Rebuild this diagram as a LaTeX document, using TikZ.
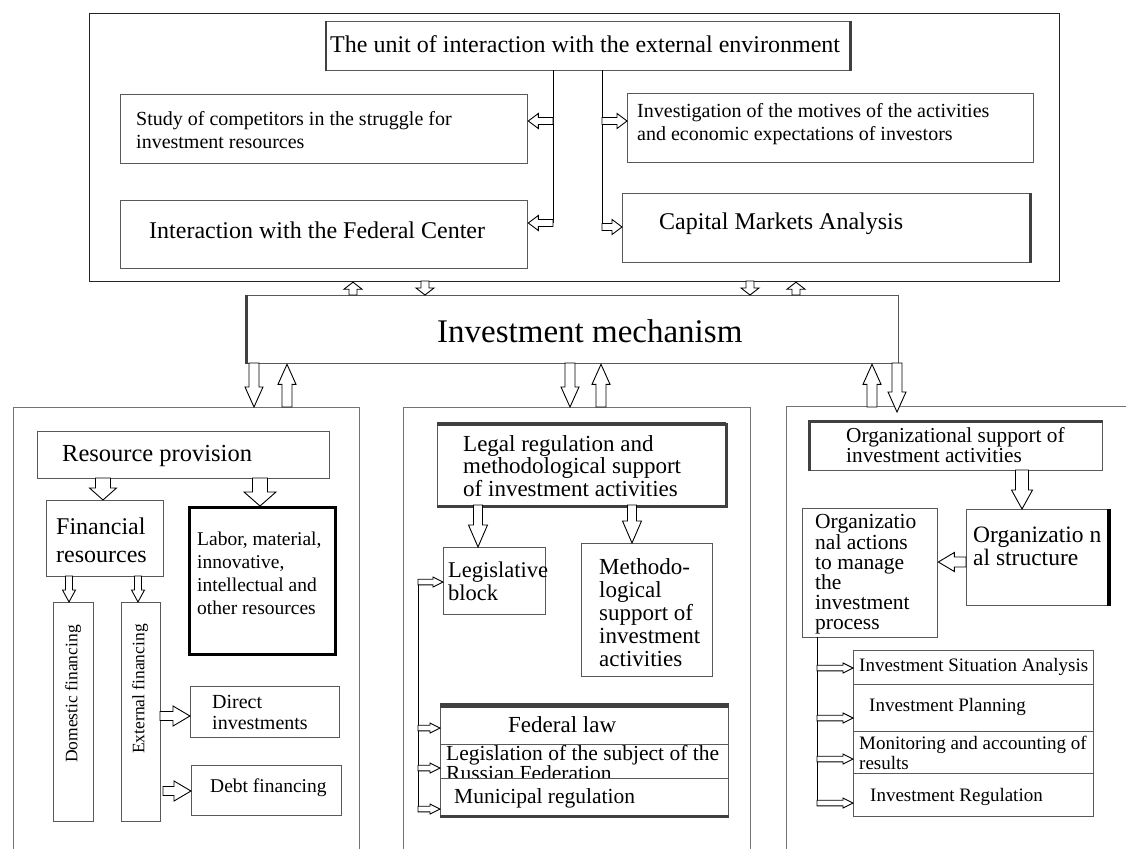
\documentclass[tikz,border=0pt]{standalone}
\usepackage{fontspec}
\setmainfont{Liberation Serif}
\usetikzlibrary{calc}
\tikzset{
  box/.style={draw=black!65, line width=1.3pt, fill=white, inner sep=0pt, anchor=north west},
  panelbox/.style={draw=black!55, line width=1.3pt, fill=white, inner sep=0pt, anchor=north west},
  txt/.style={inner sep=0pt, anchor=west, align=left, text=black},
  barrow/.style={draw=black, line width=0.9pt, fill=white, line join=miter},
  link/.style={draw=black, line width=1pt},
  heavy/.style={line width=#1, draw=black!75},
}
\newcommand\fs[2]{\fontsize{#1}{#2}\selectfont}
\newcommand\bx[6][]{\node[box, #1, minimum width={(#5-#3)*1pt}, minimum height={(#6-#4)*1pt}] (#2) at (#3,#4) {};}
\newcommand\barr[5]{%
 \draw[barrow] let \p1=#1, \p2=#2, \n1={atan2(\y2-\y1,\x2-\x1)}, \n2={veclen(\x2-\x1,\y2-\y1)} in
 ($(\p1)+(\n1+90:#3)$) -- ($(\p1)+(\n1:\n2-#5)+(\n1+90:#3)$) -- ($(\p1)+(\n1:\n2-#5)+(\n1+90:#4)$) -- (\p2)
 -- ($(\p1)+(\n1:\n2-#5)+(\n1-90:#4)$) -- ($(\p1)+(\n1:\n2-#5)+(\n1-90:#3)$) -- ($(\p1)+(\n1-90:#3)$) -- cycle;}
\begin{document}
\begin{tikzpicture}[x=1pt,y=-1pt]
\useasboundingbox[fill=white] (0,0) rectangle (1126,848);

% ---------- top block ----------
\node[panelbox, draw=black!85, line width=1.2pt, minimum width=970pt, minimum height=268pt] (top) at (89,13) {};
\bx{title}{326}{21}{849}{70}
\draw[heavy=2.5pt] (title.north west) -- (title.south west);
\draw[heavy=2.5pt] (title.north east) -- (title.south east);
\bx{study}{120}{94}{527}{163}
\bx{inter}{120}{200}{527}{268}
\bx{invest}{627}{93}{1033}{162}
\bx{capital}{622}{193}{1029}{262}
\draw[heavy=2.5pt] (capital.north east) -- (capital.south east);

\node[txt, font=\fs{24}{28}] (t-title) at (330,44) {The unit of interaction with the external environment};
\node[txt, font=\fs{20}{23}] (t-study) at (136,130.5) {Study of competitors in the struggle for\\investment resources};
\node[txt, font=\fs{24}{28}] (t-inter) at (149,230) {Interaction with the Federal Center};
\node[txt, font=\fs{20}{23}] (t-invest) at (637,124.5) {Investigation of the motives of the activities\\and economic expectations of investors};
\node[txt, font=\fs{24}{28}] (t-capital) at (659,224) {Capital Markets Analysis};

\coordinate (jL) at (553,70);
\coordinate (jLa) at (553,121);
\coordinate (jLb) at (553,223);
\coordinate (jR) at (602,70);
\coordinate (jRa) at (602,121);
\coordinate (jRb) at (602,227);
\draw[link] (jL) -- (jLb);
\draw[link] (jR) -- (jRb);
\barr{(jLa)}{(study.east |- jLa)}{3.5pt}{7.5pt}{10pt}
\barr{(jLb)}{(inter.east |- jLb)}{3.5pt}{7.5pt}{10pt}
\barr{(jRa)}{(invest.west |- jRa)}{3.5pt}{7.5pt}{10pt}
\barr{(jRb)}{(capital.west |- jRb)}{3.5pt}{7.5pt}{10pt}

% ---------- mechanism ----------
\bx{mech}{246}{295}{898}{363}
\draw[heavy=3pt] (mech.north west) -- (mech.south west);
\node[txt, font=\fs{33}{38}] (t-mech) at (437,331) {Investment mechanism};

\coordinate (m1) at (353,295);
\coordinate (m2) at (425,281);
\coordinate (m3) at (750,281);
\coordinate (m4) at (796,295);
\barr{(m1)}{(top.south -| m1)}{4pt}{9pt}{7pt}
\barr{(m2)}{(mech.north -| m2)}{4pt}{9pt}{7pt}
\barr{(m3)}{(mech.north -| m3)}{4pt}{9pt}{7pt}
\barr{(m4)}{(top.south -| m4)}{4pt}{9pt}{7pt}

% ---------- panels ----------
\node[panelbox, minimum width=346pt, minimum height=470pt] (lp) at (13,407) {};
\node[panelbox, minimum width=347pt, minimum height=470pt] (cp) at (403,407) {};
\node[panelbox, minimum width=360pt, minimum height=470pt] (rp) at (786,406) {};

\coordinate (d1) at (254,363);
\coordinate (u1) at (287,407);
\coordinate (d2) at (570,363);
\coordinate (u2) at (601,407);
\coordinate (u3) at (872,407);
\coordinate (d3) at (897,363);
\coordinate (d3e) at (897,412);
\barr{(d1)}{(lp.north -| d1)}{5pt}{9pt}{20pt}
\barr{(u1)}{(mech.south -| u1)}{5pt}{9pt}{20pt}
\barr{(d2)}{(cp.north -| d2)}{5pt}{9pt}{20pt}
\barr{(u2)}{(mech.south -| u2)}{5pt}{9pt}{20pt}
\barr{(u3)}{(mech.south -| u3)}{5pt}{9pt}{20pt}
\barr{(d3)}{(d3e)}{5pt}{9pt}{20pt}

% ---------- left panel ----------
\bx{res}{37}{431}{329}{478}
\bx{fin}{46}{500}{163}{576}
\bx[draw=black, line width=2.6pt]{labor}{188}{506}{334}{653}
\bx{dom}{53}{602}{93}{821}
\bx{ext}{121}{602}{160}{821}
\bx{direct}{190}{686}{339}{737}
\bx{debt}{191}{765}{341}{815}

\node[txt, font=\fs{24.5}{28}] (t-res) at (62,456) {Resource provision};
\node[txt, font=\fs{24}{28}] (t-fin) at (56,540) {Financial\\resources};
\node[txt, font=\fs{19.5}{23}] (t-labor) at (197,573) {Labor, material,\\innovative,\\intellectual and\\other resources};
\node[inner sep=0pt, rotate=90, font=\fs{17.5}{20}] (t-dom) at (73,694) {Domestic financing};
\node[inner sep=0pt, rotate=90, font=\fs{17.5}{20}] (t-ext) at (140,689) {External financing};
\node[txt, font=\fs{20}{21}] (t-direct) at (212,712.5) {Direct\\investments};
\node[txt, font=\fs{19.5}{22}] (t-debt) at (210,788) {Debt financing};

\coordinate (r1) at (103,478);
\coordinate (r2) at (260,478);
\coordinate (f1) at (69,576);
\coordinate (f2) at (138,576);
\coordinate (e1) at (160,716);
\coordinate (e2) at (163,791);
\barr{(r1)}{(fin.north -| r1)}{7.5pt}{13.5pt}{12pt}
\barr{(r2)}{(labor.north -| r2)}{7.5pt}{16pt}{14pt}
\barr{(f1)}{(dom.north -| f1)}{3.5pt}{6.5pt}{12pt}
\barr{(f2)}{(ext.north -| f2)}{3.5pt}{6.5pt}{12pt}
\barr{(e1)}{(direct.west |- e1)}{4.5pt}{10pt}{17pt}
\barr{(e2)}{(debt.west |- e2)}{4.5pt}{10pt}{17pt}

% ---------- centre panel ----------
\bx{legal}{437}{423}{725}{505}
\draw[heavy=4pt] ($(legal.north west)+(0,1)$) -- ($(legal.north east)+(0,1)$);
\draw[heavy=2.5pt] (legal.south west) -- (legal.south east) -- (legal.north east);
\bx{legis}{443}{547}{545}{614}
\bx{meth}{581}{543}{712}{676}
\bx{lawA}{440}{703}{728}{744}
\bx{lawB}{440}{744}{728}{778}
\node[txt, font=\fs{21.5}{20}] (t-lawB) at (446,763) {Legislation of the subject of the\\Russian Federation};
\bx{lawC}{440}{778}{728}{815}
\draw[heavy=5pt] ($(lawA.north west)+(0,2)$) -- ($(lawA.north east)+(0,2)$);
\draw[heavy=3.5pt] (lawC.south west) -- (lawC.south east);

\node[txt, font=\fs{23}{22.5}] (t-legal) at (463,466) {Legal regulation and\\methodological support\\of investment activities};
\node[txt, font=\fs{22.5}{23}] (t-legis) at (448,581.5) {Legislative\\block};
\node[txt, font=\fs{23}{23}] (t-meth) at (599,613) {Methodo-\\logical\\support of\\investment\\activities};
\node[txt, font=\fs{23}{26}] (t-lawA) at (508,725) {Federal law};
\node[txt, font=\fs{21.5}{24}] (t-lawC) at (454,798) {Municipal regulation};

\coordinate (g1) at (478,505);
\coordinate (g2) at (632,505);
\barr{(g1)}{(legis.north -| g1)}{4.5pt}{9.5pt}{22pt}
\barr{(g2)}{(meth.north -| g2)}{4.5pt}{9.5pt}{22pt}
\coordinate (cA) at (418,582);
\coordinate (cB) at (418,728);
\coordinate (cC) at (418,768);
\coordinate (cD) at (418,809);
\draw[link] (cA) -- (cD);
\barr{(cA)}{(legis.west |- cA)}{2.8pt}{5pt}{10pt}
\barr{(cB)}{(lawA.west |- cB)}{2.8pt}{5pt}{10pt}
\barr{(cC)}{(lawB.west |- cC)}{2.8pt}{5pt}{10pt}
\barr{(cD)}{(lawC.west |- cD)}{2.8pt}{5pt}{10pt}

% ---------- right panel ----------
\bx{org}{809}{421}{1102}{470}
\draw[heavy=3pt] (org.south west) -- (org.north west) -- (org.north east);
\bx{struct}{966}{509}{1109}{605}
\draw[line width=4pt, black] ($(struct.north east)+(-1,0)$) -- ($(struct.south east)+(-1,0)$);
\bx{acts}{802}{508}{937}{637}
\bx{rA}{853}{650}{1093}{684}
\bx{rB}{853}{684}{1093}{731}
\bx{rC}{853}{731}{1093}{773}
\bx{rD}{853}{773}{1093}{816}

\node[txt, font=\fs{21.3}{20}] (t-org) at (846,445) {Organizational support of\\investment activities};
\node[txt, font=\fs{21.5}{20.2}] (t-acts) at (815,574.5) {Organizatio\\nal actions\\to manage\\the\\investment\\process};
\node[txt, font=\fs{23.5}{23}] (t-struct) at (973,546.5) {Organizatio n\\al structure};
\node[txt, font=\fs{19}{22}] (t-rA) at (859,667) {Investment Situation Analysis};
\node[txt, font=\fs{19}{22}] (t-rB) at (869,707) {Investment Planning};
\node[txt, font=\fs{19}{20}] (t-rC) at (859,753) {Monitoring and accounting of\\results};
\node[txt, font=\fs{19}{22}] (t-rD) at (870,797) {Investment Regulation};

\coordinate (o1) at (1022,470);
\coordinate (o2) at (966,562);
\barr{(o1)}{(struct.north -| o1)}{6.5pt}{10.5pt}{19pt}
\barr{(o2)}{(acts.east |- o2)}{5pt}{9.5pt}{16pt}
\coordinate (k0) at (817,637);
\coordinate (k1) at (817,668);
\coordinate (k2) at (817,718);
\coordinate (k3) at (817,759);
\coordinate (k4) at (817,803);
\draw[link] (k0) -- (k4);
\barr{(k1)}{(rA.west |- k1)}{2.8pt}{5pt}{10pt}
\barr{(k2)}{(rB.west |- k2)}{2.8pt}{5pt}{10pt}
\barr{(k3)}{(rC.west |- k3)}{2.8pt}{5pt}{10pt}
\barr{(k4)}{(rD.west |- k4)}{2.8pt}{5pt}{10pt}
\end{tikzpicture}
\end{document}
